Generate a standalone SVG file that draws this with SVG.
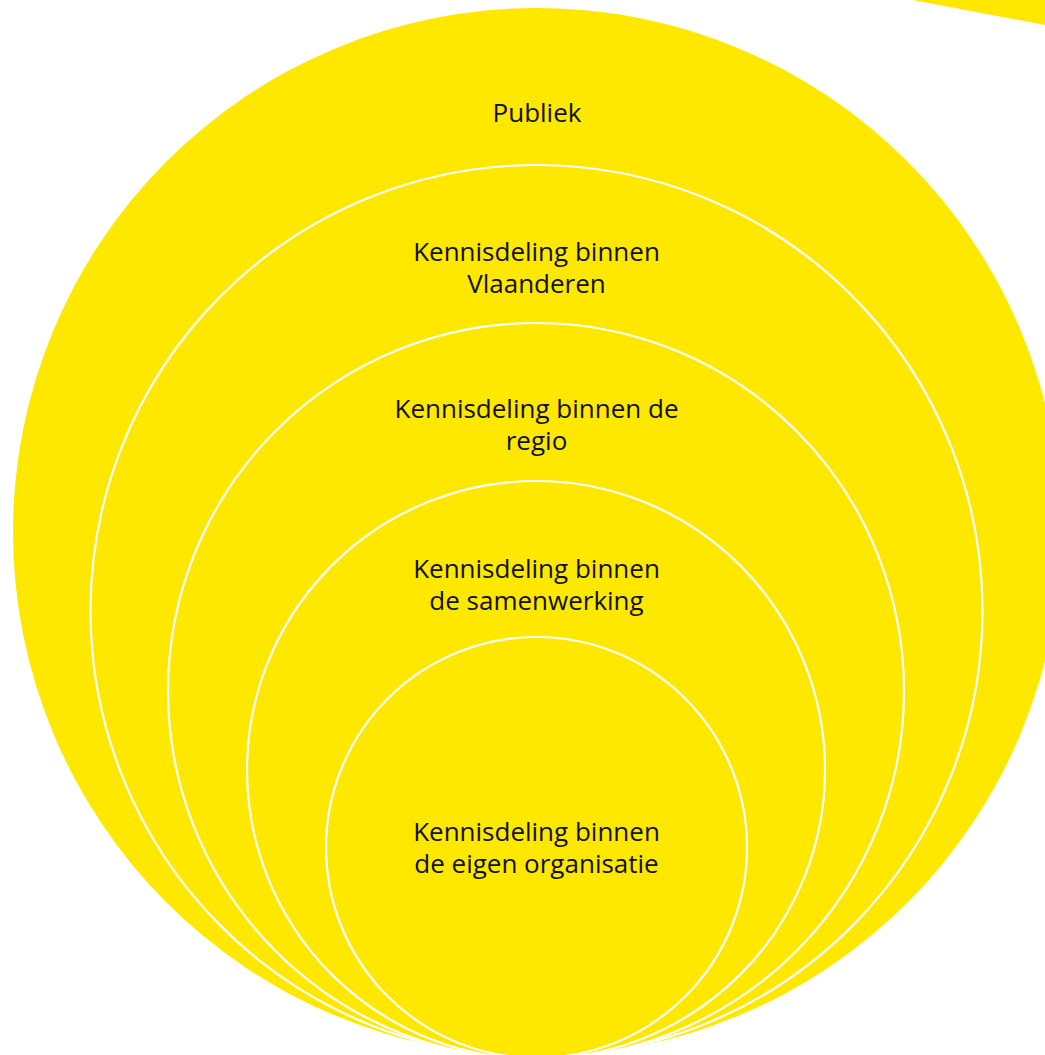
<svg xmlns="http://www.w3.org/2000/svg" width="1045" height="1055" viewBox="0 0 1045 1055">
<style>
.c{fill:#FFE800;}
.r{fill:#FFE800;stroke:#FFFFFF;stroke-width:2.2;}
.t{font-family:"Open Sans","Noto Sans",sans-serif;font-size:26px;fill:#111111;text-anchor:middle;}
</style>
<rect width="1045" height="1055" fill="#FFFFFF"/>
<g id="corner"><polygon class="c" points="913,0 1045,0 1045,25"/></g>
<g id="connectors"></g>
<g id="publiek">
<circle class="c" cx="537" cy="532" r="524"/>
<text class="t" x="537" y="122">Publiek</text>
</g>
<g id="vlaanderen">
<circle class="r" cx="536.5" cy="611" r="446"/>
<text class="t" x="536.5" y="261">Kennisdeling binnen</text>
<text class="t" x="536.5" y="293">Vlaanderen</text>
</g>
<g id="regio">
<circle class="r" cx="536" cy="691" r="368"/>
<text class="t" x="536.5" y="418">Kennisdeling binnen de</text>
<text class="t" x="536.5" y="450">regio</text>
</g>
<g id="samenwerking">
<circle class="r" cx="536" cy="770" r="289"/>
<text class="t" x="536.5" y="578">Kennisdeling binnen</text>
<text class="t" x="536.5" y="610">de samenwerking</text>
</g>
<g id="organisatie">
<circle class="r" cx="536.5" cy="847.5" r="210.5"/>
<text class="t" x="536.5" y="841">Kennisdeling binnen</text>
<text class="t" x="536.5" y="873">de eigen organisatie</text>
</g>
</svg>
